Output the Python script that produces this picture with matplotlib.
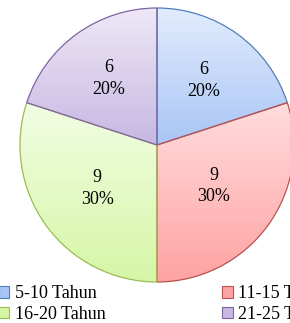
import matplotlib.pyplot as plt
import numpy as np
from matplotlib.colors import LinearSegmentedColormap
from matplotlib.patches import Rectangle

labels = ['5-10 Tahun', '11-15 Tahun', '16-20 Tahun', '21-25 Tahun']
values = [6, 9, 9, 6]

# gradient colours (top, bottom) and edge colours
tops = ['#e2ecfd', '#ffdcdc', '#f2fde4', '#eee8f7']
bottoms = ['#a9c5f5', '#ffa3a3', '#d6f6a6', '#c7b7e2']
edges = ['#4f81bd', '#c0504d', '#9bbb59', '#8064a2']
label_dist = [0.58, 0.51, 0.54, 0.6]

plt.rcParams['font.family'] = ['Liberation Serif', 'DejaVu Serif']

fig = plt.figure(figsize=(2.90, 3.23), dpi=100)
ax = fig.add_axes([0, 0, 1, 1])

total = sum(values)
wedges, texts = ax.pie(values, startangle=90, counterclock=False, radius=1,
                       wedgeprops=dict(linewidth=0.9),
                       labels=[f'{v}\n{v / total * 100:.0f}%' for v in values],
                       labeldistance=1.0,
                       textprops=dict(fontsize=13, ha='center', va='center',
                                      linespacing=1.35))

# move each label inward along its wedge's mid angle
for t, d in zip(texts, label_dist):
    x, y = t.get_position()
    t.set_position((x * d, y * d))
    t.set_zorder(3)

# vertical gradient fill clipped to each wedge
grad = np.linspace(0, 1, 256).reshape(-1, 1)
for w, t, b, e in zip(wedges, tops, bottoms, edges):
    w.set_facecolor('none')
    w.set_edgecolor(e)
    cmap = LinearSegmentedColormap.from_list('g', [t, b])
    th1, th2 = np.radians(w.theta1), np.radians(w.theta2)
    ang = np.linspace(th1, th2, 100)
    ys = np.concatenate([[0], np.sin(ang)])
    im = ax.imshow(grad, cmap=cmap, extent=[-1, 1, ys.min(), ys.max()],
                   origin='upper', aspect='auto', zorder=0.5)
    im.set_clip_path(w)
    w.set_zorder(1)

# centre at pixel (157,145), radius 137 px
r = 137
ax.set_xlim(-157 / r, (290 - 157) / r)
ax.set_ylim(-(323 - 145) / r, 145 / r)
ax.set_aspect('equal')
ax.axis('off')

# legend, filled row by row (right column runs past the edge as in the original)
handles = [Rectangle((0, 0), 1, 1, facecolor=b, edgecolor=e, linewidth=0.8)
           for b, e in zip(bottoms, edges)]
order = [0, 2, 1, 3]
fig.legend([handles[i] for i in order], [labels[i] for i in order],
           loc='upper left', bbox_to_anchor=(-0.005, 0.117),
           ncol=2, frameon=False, fontsize=13, handlelength=0.6,
           handleheight=0.6, handletextpad=0.3, columnspacing=6.45,
           labelspacing=0.2, borderaxespad=0, borderpad=0)

fig.savefig('out.png', dpi=100)
